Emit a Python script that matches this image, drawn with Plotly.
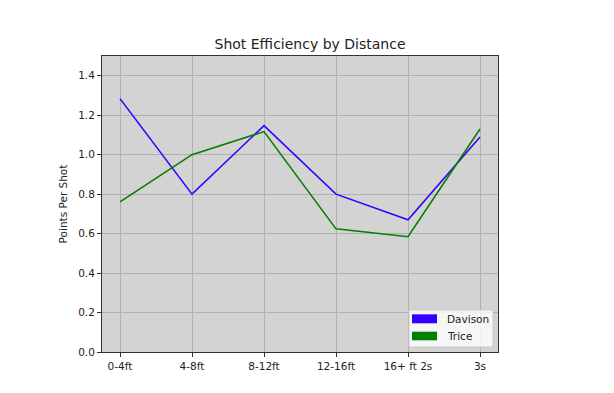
import plotly.graph_objects as go

categories = ["0-4ft", "4-8ft", "8-12ft", "12-16ft", "16+ ft 2s", "3s"]
davison = [1.284, 0.80, 1.147, 0.80, 0.67, 1.09]
trice = [0.761, 1.0, 1.117, 0.624, 0.584, 1.13]
series_names = ["Davison", "Trice"]
series_colors = ["#3300ff", "#008000"]
y_ticks = [0.0, 0.2, 0.4, 0.6, 0.8, 1.0, 1.2, 1.4]

font = "DejaVu Sans"
x_idx = list(range(len(categories)))

fig = go.Figure()
for name, vals, col in zip(series_names, [davison, trice], series_colors):
    fig.add_trace(go.Scatter(x=x_idx, y=vals, mode="lines", name=name,
                             line=dict(color=col, width=1.6), showlegend=False))

axis_common = dict(showline=True, linecolor="#333333", linewidth=1, mirror=True,
                   ticks="outside", ticklen=4, tickcolor="#333333",
                   showgrid=True, gridcolor="#b0b0b0", gridwidth=0.8, zeroline=False,
                   tickfont=dict(family=font, size=10.5, color="#222222"))

# legend (matplotlib-style patches), in plot-area fractions
plot_l, plot_r, plot_t, plot_b = 102, 498, 56, 352
def fx(px):
    return (px - plot_l) / (plot_r - plot_l)
def fy(py):
    return (plot_b - py) / (plot_b - plot_t)

shapes = [dict(type="rect", xref="paper", yref="paper",
               x0=fx(409), x1=fx(493), y0=fy(347), y1=fy(310),
               fillcolor="rgba(255,255,255,0.8)", line=dict(color="#cccccc", width=1),
               layer="above")]
annotations = []
patch_rows = [(314.3, 323.3), (331.7, 340.3)]
for (top, bot), name, col in zip(patch_rows, series_names, series_colors):
    shapes.append(dict(type="rect", xref="paper", yref="paper",
                       x0=fx(412), x1=fx(437), y0=fy(bot), y1=fy(top),
                       fillcolor=col, line=dict(width=0), layer="above"))
    annotations.append(dict(xref="paper", yref="paper", x=fx(445), y=fy((top + bot) / 2),
                            text=name, showarrow=False, xanchor="left", yanchor="middle",
                            font=dict(family=font, size=10.5, color="#222222")))

fig.update_layout(
    width=614, height=393,
    margin=dict(l=94, r=124, t=48, b=49),
    paper_bgcolor="white", plot_bgcolor="#d3d3d3",
    showlegend=False,
    title=dict(text="Shot Efficiency by Distance", x=302 / 614, xanchor="center",
               xref="container", y=1 - 36 / 393, yanchor="middle",
               font=dict(family=font, size=14, color="#222222")),
    xaxis=dict(tickmode="array", tickvals=x_idx, ticktext=categories,
               range=[-0.25, 5.25], **axis_common),
    yaxis=dict(tickmode="array", tickvals=y_ticks,
               ticktext=[f"{v:.1f}" for v in y_ticks], range=[0, 1.5],
               title=dict(text="Points Per Shot", font=dict(family=font, size=10.5, color="#222222"),
                          standoff=8),
               **axis_common),
    shapes=shapes,
    annotations=annotations,
)

fig.write_html("out.html")
